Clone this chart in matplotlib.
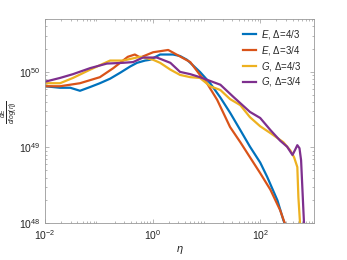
import numpy as np
import matplotlib
matplotlib.use("Agg")
import matplotlib.pyplot as plt

plt.rcParams['font.family'] = ['Liberation Sans', 'DejaVu Sans']
plt.rcParams['mathtext.fontset'] = 'custom'
plt.rcParams['mathtext.rm'] = 'Liberation Sans'
plt.rcParams['mathtext.it'] = 'Liberation Sans:italic'

# log10(eta), log10(dE/dlog eta)
blue_x = [-2.00,-1.72,-1.53,-1.35,-1.16,-0.98,-0.79,-0.60,-0.42,-0.29,-0.14,-0.05,0.14,0.38,0.51,0.64,0.88,1.07,1.26,1.44,1.63,1.81,2.00,2.13,2.32,2.43,2.49]
blue_y = [49.81,49.79,49.79,49.75,49.80,49.85,49.91,49.99,50.07,50.12,50.15,50.16,50.23,50.23,50.21,50.16,50.00,49.85,49.66,49.46,49.23,49.01,48.80,48.61,48.30,48.04,47.93]

red_x = [-2.00,-1.72,-1.35,-0.98,-0.73,-0.46,-0.33,-0.23,0.01,0.29,0.47,0.70,0.88,1.01,1.20,1.44,1.63,1.81,2.00,2.19,2.37,2.49]
red_y = [49.81,49.81,49.85,49.93,50.05,50.20,50.23,50.19,50.26,50.29,50.22,50.13,49.96,49.85,49.63,49.27,49.07,48.87,48.66,48.44,48.17,47.93]

yel_x = [-2.00,-1.72,-1.48,-1.16,-0.79,-0.55,-0.23,0.01,0.14,0.33,0.51,0.70,0.88,1.07,1.26,1.44,1.63,1.81,2.00,2.19,2.43,2.56,2.63,2.69,2.71,2.74,2.76]
yel_y = [49.85,49.85,49.92,50.03,50.15,50.15,50.20,50.16,50.12,50.03,49.96,49.93,49.92,49.81,49.76,49.64,49.56,49.40,49.28,49.19,49.07,48.96,48.87,48.74,48.34,48.00,47.84]

pur_x = [-2.00,-1.72,-1.48,-1.16,-0.85,-0.55,-0.36,-0.18,0.08,0.33,0.51,0.70,0.88,1.07,1.26,1.50,1.81,2.00,2.19,2.37,2.50,2.60,2.65,2.69,2.73,2.76,2.80,2.82]
pur_y = [49.87,49.92,49.97,50.05,50.11,50.12,50.13,50.19,50.19,50.12,50.00,49.97,49.93,49.88,49.83,49.67,49.47,49.39,49.23,49.09,49.01,48.90,48.97,49.03,48.99,48.83,48.21,47.91]

labels = [r'$E$, Δ=4/3', r'$E$, Δ=3/4', r'$G$, Δ=4/3', r'$G$, Δ=3/4']
colors = ['#0072BD', '#D95319', '#EDB120', '#7E2F8E']

fig = plt.figure(figsize=(3.47, 2.60), dpi=100)
ax = fig.add_axes([45/347, 1-223/260, (314-45)/347, (223-19)/260])

for xs, ys, lab, c in zip([blue_x, red_x, yel_x, pur_x], [blue_y, red_y, yel_y, pur_y], labels, colors):
    ax.plot(10**np.array(xs), 10**np.array(ys), color=c, lw=1.6, label=lab)

ax.set_xscale('log')
ax.set_yscale('log')
ax.set_xlim(1e-2, 1e3)
ax.set_ylim(1e48, 10**50.7)
ax.set_xticks([1e-2, 1e0, 1e2])
ax.set_yticks([1e48, 1e49, 1e50])

for s in ax.spines.values():
    s.set_color('#999999')
    s.set_linewidth(0.6)
ax.tick_params(which='both', direction='in', top=True, right=True, colors='#999999',
               labelcolor='#262626', labelsize=7.5, width=0.5)
ax.tick_params(which='major', length=3)
ax.tick_params(which='minor', length=1.6)

ax.set_xlabel(r'$\eta$', fontsize=8, color='#262626', labelpad=2)
ax.set_ylabel(r'$\frac{dE}{dlog(\eta)}$', fontsize=7, color='#262626')
ax.yaxis.set_label_coords(-0.095, 0.54)

leg = ax.legend(loc='upper right', frameon=False, fontsize=7, handlelength=1.3,
                handletextpad=0.5, labelspacing=0.3, borderaxespad=0.5,
                bbox_to_anchor=(0.985, 1.0))
for t in leg.get_texts():
    t.set_color('#262626')

fig.savefig('out.png', dpi=100)
